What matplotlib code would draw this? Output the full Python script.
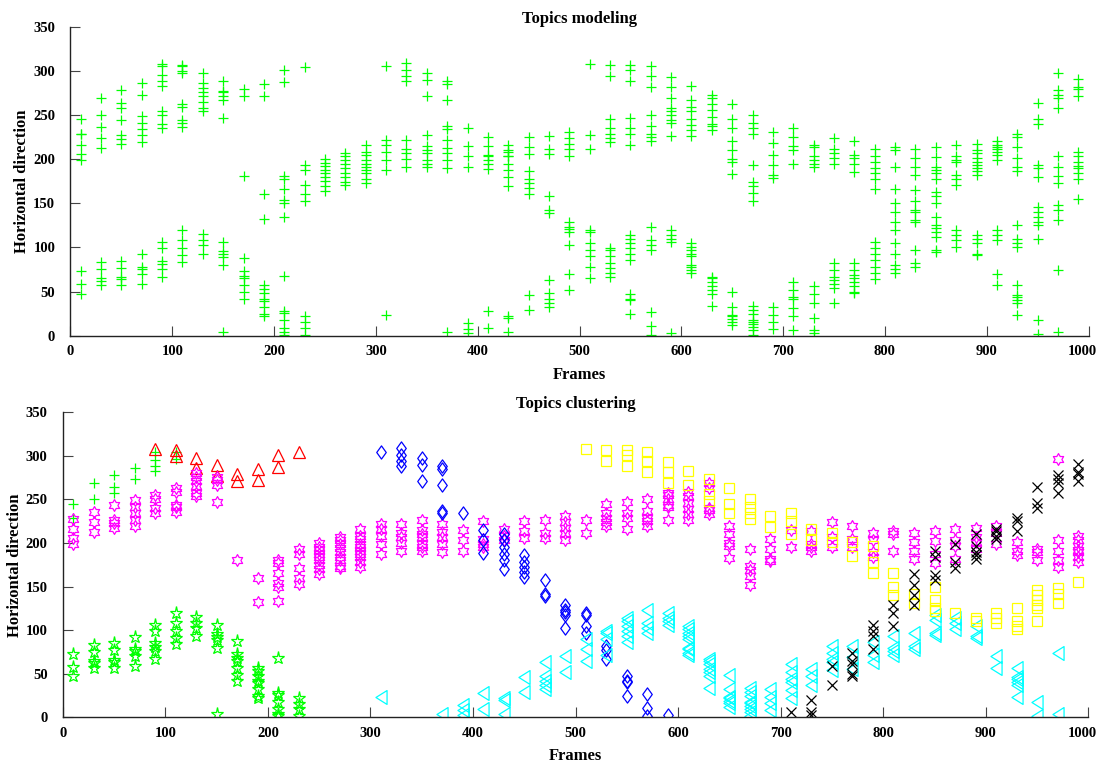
import numpy as np
import matplotlib
matplotlib.use("Agg")
import matplotlib.pyplot as plt
import matplotlib.transforms as mtransforms
from matplotlib.path import Path

plt.rcParams['font.family'] = ['Liberation Serif', 'DejaVu Serif']
plt.rcParams['font.weight'] = 'bold'

# cluster data: frame positions and the horizontal positions found at each frame
plus_frames = [10, 30, 50, 70, 90, 110]
plus_values = [[245, 229], [269, 250], [278, 264, 258], [286, 273],
               [305, 295, 288, 283], [305, 297]]

tri_frames = [90, 110, 130, 150, 170, 190, 210, 230]
tri_values = [[308], [307, 300], [298, 286], [289, 277], [279, 271],
              [285, 272], [301, 287], [304]]

hex_frames = [10, 30, 50, 70, 90, 110, 130, 150, 170, 190, 210, 230, 250, 270,
              290, 310, 330, 350, 370, 390, 410, 430, 450, 470, 490, 510, 530,
              550, 570, 590, 610, 630, 650, 670, 690, 710, 730, 750, 770, 790,
              810, 830, 850, 870, 890, 910, 930, 950, 970, 990]
hex_values = [[228, 216, 206, 199], [236, 224, 213], [244, 227, 223, 217],
              [249, 241, 234, 227, 219], [255, 250, 240, 235],
              [263, 259, 244, 241, 236], [280, 276, 271, 265, 258, 254],
              [276, 272, 267, 247], [181], [160, 132],
              [181, 177, 166, 154, 150, 134], [193, 188, 171, 160, 153],
              [200, 196, 192, 188, 184, 180, 175, 170, 164],
              [207, 203, 199, 194, 190, 184, 180, 174, 171],
              [216, 208, 205, 199, 195, 191, 188, 184, 178, 173],
              [222, 216, 208, 199, 188], [222, 212, 207, 200, 191],
              [227, 215, 210, 207, 199, 195, 191], [222, 213, 207, 199, 190],
              [215, 203, 191], [225, 205, 199, 195], [216, 208, 203],
              [225, 214, 206], [226, 211, 206], [231, 224, 217, 212, 203],
              [227, 211], [245, 235, 229, 224, 219], [247, 235, 229, 216],
              [250, 237, 229, 225, 220], [258, 255, 250, 244, 241, 226],
              [259, 254, 246, 239, 233, 226], [269, 263, 240, 238, 233],
              [220, 210, 200, 197, 183], [193, 174, 169, 162, 152],
              [205, 193, 182, 179], [215, 195], [214, 199, 195, 191],
              [224, 207, 195], [220, 205, 195], [212, 203, 190, 184],
              [214, 210, 191], [212, 201, 191, 182], [214, 202, 188, 177],
              [216, 203, 197, 182], [217, 207, 201, 193], [220, 211, 199],
              [201, 191, 186], [193, 190, 180], [297, 204, 191, 181, 173],
              [208, 204, 197, 192, 190, 184, 178]]

pent_frames = [10, 30, 50, 70, 90, 110, 130, 150, 170, 190, 210, 230]
pent_values = [[73, 58, 47], [83, 75, 65, 62, 57], [85, 77, 66, 64, 57],
               [92, 78, 76, 70, 59], [106, 99, 85, 81, 76, 67],
               [120, 108, 99, 91, 84], [115, 108, 103, 93],
               [106, 96, 92, 89, 80, 4], [88, 73, 68, 65, 57, 49, 42],
               [57, 53, 48, 42, 39, 33, 25, 22], [68, 28, 26, 18, 9, 4, 1],
               [22, 15, 9, 1]]

dia_frames = [310, 330, 350, 370, 390, 410, 430, 450, 470, 490, 510, 530,
              550, 570, 590]
dia_values = [[305], [309, 301, 294, 288], [298, 290, 271],
              [288, 285, 267, 237, 234], [235], [215, 203, 189],
              [210, 203, 195, 188, 180, 170], [186, 178, 173, 167, 161],
              [158, 142, 139], [129, 123, 121, 117, 103], [120, 118, 105, 97],
              [82, 77, 67], [47, 42, 40, 25], [27, 11, 1], [3]]

left_frames = [310, 370, 390, 410, 430, 450, 470, 490, 510, 530, 550, 570,
               590, 610, 630, 650, 670, 690, 710, 730, 750, 770, 790, 810,
               830, 850, 870, 890, 910, 930, 950, 970]
left_values = [[23], [4], [14, 8, 3], [28, 9], [22, 20, 4], [46, 29],
               [63, 48, 42, 37, 32], [70, 52], [90, 78, 65], [99, 97, 90, 71],
               [114, 110, 105, 99, 93, 86], [123, 108, 103, 97],
               [120, 114, 110, 106], [105, 101, 97, 93, 90, 80, 78, 74, 71],
               [67, 65, 61, 56, 52, 47, 34], [49, 33, 23, 22, 19, 16, 12],
               [34, 29, 25, 18, 16, 13, 10, 6, 1], [32, 23, 16, 8],
               [61, 52, 44, 41, 31, 22], [56, 47, 37], [82, 74, 67, 63, 54],
               [82, 69, 56], [86, 71, 64], [93, 80, 76, 71], [97, 82, 78],
               [117, 112, 97, 95], [114, 108, 101], [105, 93, 91], [70, 57],
               [57, 46, 44, 40, 37, 23], [18, 2], [74, 4]]

sq_frames = [510, 530, 550, 570, 590, 610, 630, 650, 670, 690, 710, 730, 750,
             770, 790, 810, 830, 850, 870, 890, 910, 930, 950, 970, 990]
sq_values = [[308], [307, 294], [307, 301, 288], [305, 294, 282],
             [293, 282, 269], [283, 267], [273, 256, 248], [263, 245, 235],
             [250, 241, 235, 228], [231, 218], [235, 225, 210], [216, 203],
             [211, 201], [201, 185], [197, 178, 166], [166, 150, 140],
             [142, 131], [150, 135, 125, 122], [120], [114, 110],
             [120, 114, 108], [125, 110, 105, 101],
             [146, 140, 135, 129, 125, 110], [148, 142, 131], [155]]

x_frames = [710, 730, 750, 770, 790, 810, 830, 850, 870, 890, 910, 930, 950,
            970, 990]
x_values = [[6], [20, 6, 3], [59, 37], [74, 65, 61, 50, 48],
            [106, 99, 93, 78], [129, 120, 105], [165, 152, 140, 129],
            [191, 184, 163, 158], [199, 178, 171], [210, 197, 190, 186, 182],
            [216, 214, 208, 205], [229, 225, 214], [264, 246, 240],
            [278, 273, 269, 258], [291, 282, 279, 271]]


def expand(frames, values):
    xs, ys = [], []
    for f, vals in zip(frames, values):
        xs += [f] * len(vals)
        ys += vals
    return np.array(xs), np.array(ys)


# hexagram outline (star of David)
ang = np.deg2rad(90 + 30 * np.arange(12))
rad = np.where(np.arange(12) % 2 == 0, 1.0, 1 / np.sqrt(3))
hexagram = Path(np.column_stack([rad * np.cos(ang), rad * np.sin(ang)]).tolist()
                + [[0, 1]], closed=True)
diamond = Path([[0, 1], [-0.72, 0], [0, -1], [0.72, 0], [0, 1]], closed=True)
tri_left = Path([[-0.8, 0], [0.8, 1], [0.8, -1], [-0.8, 0]], closed=True)

clusters = [
    (plus_frames, plus_values, dict(marker='+', color=(0, 1, 0), ms=6.5)),
    (tri_frames, tri_values, dict(marker='^', color=(1, 0, 0), ms=8.5)),
    (hex_frames, hex_values, dict(marker=hexagram, color=(1, 0, 1), ms=8.5)),
    (pent_frames, pent_values, dict(marker='*', color=(0, 1, 0), ms=9.5)),
    (dia_frames, dia_values, dict(marker=diamond, color=(0, 0, 1), ms=9.5)),
    (left_frames, left_values, dict(marker=tri_left, color=(0, 1, 1), ms=10)),
    (sq_frames, sq_values, dict(marker='s', color=(1, 1, 0), ms=7)),
    (x_frames, x_values, dict(marker='x', color='k', ms=6.5)),
]

fig = plt.figure(figsize=(10.99, 7.65), dpi=100)
ax1 = fig.add_axes([0.0641, 0.5612, 0.9264, 0.4039])
ax2 = fig.add_axes([0.0571, 0.0623, 0.9332, 0.3987])

all_x, all_y = [], []
for fr, vals, st in clusters:
    xs, ys = expand(fr, vals)
    all_x.append(xs)
    all_y.append(ys)
    ax2.plot(xs, ys, linestyle='none', marker=st['marker'], ms=st['ms'],
             markeredgecolor=st['color'], markerfacecolor='none', mew=0.9)

ax1.plot(np.concatenate(all_x), np.concatenate(all_y), linestyle='none',
         marker='+', ms=6.5, color=(0, 1, 0), mew=0.9)

for ax, title in [(ax1, 'Topics modeling'), (ax2, 'Topics clustering')]:
    ax.set_xlim(0, 1000)
    ax.set_ylim(0, 350)
    ax.set_xticks(range(0, 1001, 100))
    ax.set_yticks(range(0, 351, 50))
    ax.spines['top'].set_visible(False)
    ax.spines['right'].set_visible(False)
    for s in ['left', 'bottom']:
        ax.spines[s].set_linewidth(1.0)
        ax.spines[s].set_color('#222222')
    ax.tick_params(direction='in', length=7, width=0.8, color='#444444',
                   labelsize=10.5)
    ax.tick_params(axis='y', pad=11)
    ax.tick_params(axis='x', pad=7)
    ax.set_title(title, fontsize=12, fontweight='bold', pad=3)
    ax.set_xlabel('Frames', fontsize=12, fontweight='bold', labelpad=6)
    ax.set_ylabel('Horizontal direction', fontsize=12, fontweight='bold',
                  labelpad=2)
    # keep the last x tick label inside the figure
    last = ax.get_xticklabels()[-1]
    last.set_transform(last.get_transform() +
                       mtransforms.ScaledTranslation(-6 / 100, 0,
                                                     fig.dpi_scale_trans))

fig.savefig('out.png', dpi=100)
